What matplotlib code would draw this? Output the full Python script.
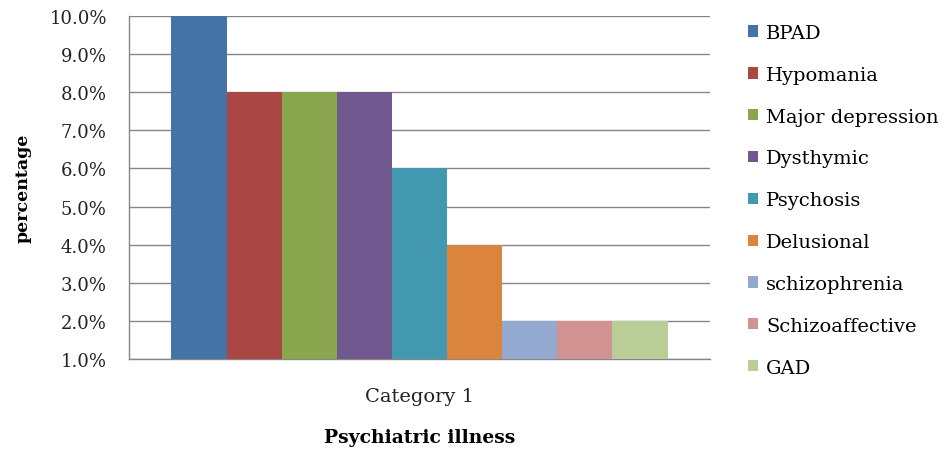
import matplotlib
matplotlib.use("Agg")
import matplotlib.pyplot as plt
from matplotlib.patches import Patch
from matplotlib.ticker import FuncFormatter

categories = ["Category 1"]
series = ["BPAD", "Hypomania", "Major depression", "Dysthymic", "Psychosis",
          "Delusional", "schizophrenia", "Schizoaffective", "GAD"]
values = [10.0, 8.0, 8.0, 8.0, 6.0, 4.0, 2.0, 2.0, 2.0]
colors = ["#4572A7", "#AA4643", "#89A54E", "#71588F", "#4198AF",
          "#DB843D", "#93A9CF", "#D19392", "#B9CD96"]
yticks = [1.0, 2.0, 3.0, 4.0, 5.0, 6.0, 7.0, 8.0, 9.0, 10.0]

plt.rcParams['font.family'] = ['DejaVu Serif']

fig = plt.figure(figsize=(9.45, 4.56), dpi=100)
ax = fig.add_axes([129/945, 96/456, 581/945, 343/456])

n = len(series)
base = 1.0
for i, (s, v, c) in enumerate(zip(series, values, colors)):
    ax.bar(i - (n - 1) / 2, v - base, width=1.0, bottom=base, color=c, label=s,
           zorder=3)

ax.set_xlim(-5.27, 5.27)
ax.set_ylim(1.0, 10.0)
ax.set_yticks(yticks)
ax.yaxis.set_major_formatter(FuncFormatter(lambda v, p: f"{v:.1f}%"))
ax.set_xticks([0])
ax.set_xticklabels(categories)
ax.tick_params(axis='both', length=0, labelsize=13, colors='#222222')
ax.tick_params(axis='x', labelsize=14, pad=20)
ax.tick_params(axis='y', pad=16)
ax.grid(axis='y', color='#868686', linewidth=1.0, zorder=0)
for sp in ['top', 'right']:
    ax.spines[sp].set_visible(False)
for sp in ['left', 'bottom']:
    ax.spines[sp].set_color('#868686')
    ax.spines[sp].set_linewidth(1.0)

ax.set_ylabel("percentage", fontsize=12.5, fontweight='bold', labelpad=13)
ax.set_xlabel("Psychiatric illness", fontsize=13.5, fontweight='bold', labelpad=17)

handles = [Patch(facecolor=c, edgecolor='none') for c in colors]
fig.legend(handles, series, loc='upper left', bbox_to_anchor=(748/945, 1 - 25/456),
           frameon=False, fontsize=14, handlelength=0.51, handleheight=0.51,
           handletextpad=0.41, labelspacing=1.225, borderaxespad=0, borderpad=0)

fig.savefig("out.png", dpi=100)
